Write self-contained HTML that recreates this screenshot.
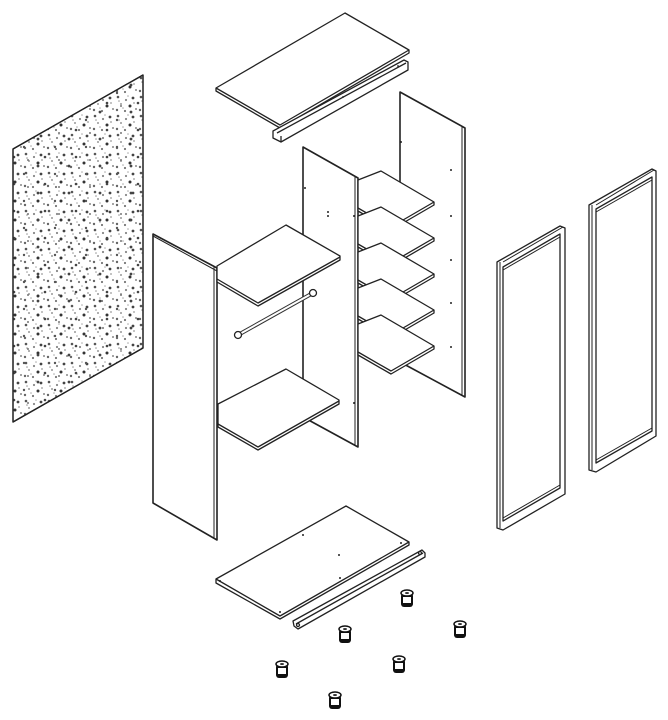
<!DOCTYPE html>
<html><head><meta charset="utf-8"><style>html,body{margin:0;padding:0;background:#fff}svg{display:block}</style></head>
<body>
<svg width="668" height="720" viewBox="0 0 668 720" xmlns="http://www.w3.org/2000/svg">
<defs>
<pattern id="sp" width="23" height="19" patternUnits="userSpaceOnUse">
<rect width="23" height="19" fill="#fff"/>
<circle cx="3" cy="2" r="1.3" fill="#555"/><circle cx="11" cy="5" r="1.1" fill="#888"/>
<circle cx="18" cy="3" r="1.4" fill="#444"/><circle cx="6" cy="9" r="1" fill="#999"/>
<circle cx="15" cy="11" r="1.5" fill="#333"/><circle cx="21" cy="14" r="1" fill="#888"/>
<circle cx="2" cy="15" r="1.2" fill="#666"/><circle cx="10" cy="16" r="1.1" fill="#777"/>
<circle cx="8" cy="13" r="0.8" fill="#aaa"/><circle cx="19" cy="8" r="0.9" fill="#999"/>
<circle cx="13" cy="1" r="0.8" fill="#aaa"/><circle cx="4" cy="6" r="0.8" fill="#999"/>
</pattern>
<pattern id="sp2" width="31" height="27" patternUnits="userSpaceOnUse">
<circle cx="7" cy="4" r="1.4" fill="#444"/><circle cx="24" cy="12" r="1.2" fill="#555"/>
<circle cx="14" cy="22" r="1.3" fill="#444"/><circle cx="28" cy="25" r="1" fill="#777"/>
</pattern>
<g id="ft">
<rect x="-6" y="-5" width="12" height="14" rx="3" fill="#111"/>
<rect x="-4" y="-1" width="8" height="6" fill="#fff"/>
<ellipse cx="0" cy="-5" rx="6" ry="3" fill="#fff" stroke="#111" stroke-width="1.5"/>
<ellipse cx="0" cy="-5" rx="2" ry="1" fill="#333"/>
</g>
<g id="sh" stroke="#222" stroke-width="1.3" stroke-linejoin="round" fill="#fff">
<polygon points="358,180 381,171 434,202 434,205 391,230 358,211"/>
<polyline points="358,208 391,227 434,202" fill="none"/>
</g>
</defs>
<g stroke="#222" stroke-width="1.3" stroke-linejoin="round" fill="#fff">
<polygon points="13,149 143,75 143,348 13,422" fill="url(#sp)"/>
<polygon points="13,149 143,75 143,348 13,422" fill="url(#sp2)"/>

<polygon points="216,88 345,13 409,50 409,53 280,128 216,91"/>
<polyline points="216,88 280,125 409,50" fill="none"/>
<polygon points="273,131 404,60 408,62 408,70 281,142 273,138"/>
<polyline points="277,133 406,63" fill="none"/>
<polyline points="281,136 281,142" fill="none"/>
<circle cx="343" cy="97" r="0.9" fill="#222" stroke="none"/>
<circle cx="398" cy="66" r="0.9" fill="#222" stroke="none"/>

<polygon points="400,92 465,128 465,397 400,362" stroke-width="1.6"/>
<line x1="462" y1="127" x2="462" y2="396" stroke-width="1"/>
<g fill="#222" stroke="none"><circle cx="401" cy="142" r="1"/><circle cx="451" cy="170" r="1"/><circle cx="451" cy="216" r="1"/><circle cx="451" cy="260" r="1"/><circle cx="451" cy="303" r="1"/><circle cx="451" cy="347" r="1"/></g>

<polygon points="303,147 358,178 358,447 303,417" stroke-width="1.6"/>
<line x1="355" y1="177" x2="355" y2="446" stroke-width="1"/>
<g fill="#222" stroke="none"><circle cx="305" cy="188" r="1"/><circle cx="328" cy="212" r="1"/><circle cx="328" cy="216" r="1"/><circle cx="354" cy="216" r="1"/><circle cx="354" cy="403" r="1"/></g>
</g>

<use href="#sh"/><use href="#sh" y="36"/><use href="#sh" y="72"/><use href="#sh" y="108"/><use href="#sh" y="144"/>

<g stroke="#222" stroke-width="1.3" stroke-linejoin="round" fill="#fff">
<polygon points="153,234 217,268 217,540 153,503" stroke-width="1.6"/>
<line x1="214" y1="267" x2="214" y2="539" stroke-width="1"/>
<line x1="153" y1="236" x2="217" y2="271" stroke-width="1"/>

<polygon points="217,266 286,225 340,256 340,260 258,306 217,282"/>
<polyline points="217,279 258,303 340,257" fill="none"/>
<line x1="238" y1="335" x2="313" y2="293" stroke-width="4" stroke="#333"/>
<line x1="238" y1="335" x2="313" y2="293" stroke-width="2" stroke="#fff"/>
<circle cx="238" cy="335" r="3.5"/><circle cx="313" cy="293" r="3.5"/>
<polygon points="218,404 286,369 339,400 339,404 258,450 218,427"/>
<polyline points="218,424 258,447 339,401" fill="none"/>

<polygon points="216,579 346,506 409,542 409,545 280,619 216,583"/>
<polyline points="216,579 280,616 409,542" fill="none"/>
<g fill="#222" stroke="none"><circle cx="303" cy="535" r="1"/><circle cx="339" cy="555" r="1"/><circle cx="340" cy="578" r="1"/><circle cx="280" cy="612" r="1"/><circle cx="401" cy="543" r="1"/><circle cx="220" cy="581" r="1"/></g>
<polygon points="293,621 422,550 425,553 425,557 298,629 294,626"/>
<polyline points="296,624 423,553" fill="none"/>
<circle cx="298" cy="625" r="1.5"/><circle cx="420" cy="553" r="1.5"/>

<polygon points="497,262 560,226 565,228 565,494 503,530 497,528"/>
<polygon points="503,267 560,234 560,488 503,521"/>
<line x1="500" y1="262" x2="500" y2="528" stroke-width="1"/>
<line x1="503" y1="262" x2="563" y2="227" stroke-width="1"/>
<line x1="503" y1="270" x2="560" y2="237" stroke-width="1"/>
<line x1="503" y1="518" x2="560" y2="485" stroke-width="1"/>
<polygon points="589,205 652,169 656,171 656,436 596,472 589,470"/>
<polygon points="596,209 652,177 652,431 596,463"/>
<line x1="592" y1="205" x2="592" y2="470" stroke-width="1"/>
<line x1="596" y1="205" x2="654" y2="170" stroke-width="1"/>
<line x1="596" y1="212" x2="652" y2="180" stroke-width="1"/>
<line x1="596" y1="460" x2="652" y2="428" stroke-width="1"/>
</g>

<use href="#ft" x="407" y="598"/>
<use href="#ft" x="345" y="634"/>
<use href="#ft" x="460" y="629"/>
<use href="#ft" x="282" y="669"/>
<use href="#ft" x="399" y="664"/>
<use href="#ft" x="335" y="700"/>
</svg>
</body></html>
